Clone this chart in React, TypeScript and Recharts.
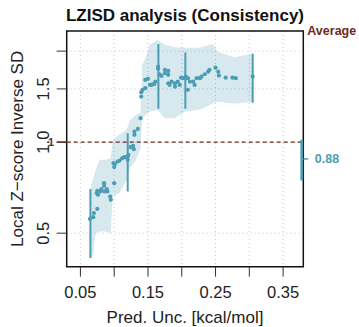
import React from 'react';
import {
  ComposedChart, XAxis, YAxis, CartesianGrid, Scatter, Line, Area,
  ReferenceLine, ReferenceArea,
} from 'recharts';

// ---------- data ----------
const xTicks = [0.05, 0.1, 0.15, 0.2, 0.25, 0.3, 0.35];
const xLabeled = [0.05, 0.15, 0.25, 0.35];
const yTicks = [0.5, 1, 1.5, 2];
const yTickLabels = ['0.5', '1.0', '1.5', ''];
const avgTicks = [0.88];

const pointX = [
  0.064, 0.069, 0.070, 0.075, 0.074, 0.075, 0.076, 0.080, 0.081, 0.085, 0.085, 0.086, 0.089, 0.090,
  0.094, 0.095, 0.100, 0.099, 0.100, 0.101, 0.105, 0.108, 0.112, 0.115, 0.118, 0.120, 0.120, 0.121,
  0.124, 0.128, 0.129, 0.130, 0.130, 0.135, 0.139, 0.140, 0.140, 0.142, 0.146, 0.146, 0.150, 0.153,
  0.155, 0.157, 0.159, 0.161, 0.165, 0.165, 0.167, 0.170, 0.175, 0.175, 0.180, 0.180, 0.180, 0.182,
  0.185, 0.190, 0.190, 0.194, 0.197, 0.199, 0.202, 0.206, 0.209, 0.209, 0.212, 0.217, 0.219, 0.222,
  0.227, 0.229, 0.234, 0.239, 0.241, 0.250, 0.254, 0.255, 0.265, 0.275, 0.280, 0.305,
];
const pointY = [
  0.557, 0.565, 0.583, 0.602, 0.679, 0.690, 0.670, 0.687, 0.700, 0.732, 0.717, 0.687, 0.700, 0.687,
  0.661, 0.645, 0.732, 0.852, 0.827, 0.846, 0.863, 0.869, 0.885, 0.892, 0.892, 0.896, 0.874, 0.908,
  0.963, 0.972, 0.948, 1.057, 1.084, 1.106, 1.20, 1.415, 1.463, 1.489, 1.51, 1.606, 1.62, 1.546,
  1.546, 1.554, 1.554, 1.585, 1.777, 1.75, 1.677, 1.656, 1.733, 1.69, 1.72, 1.67, 1.566, 1.546,
  1.585, 1.566, 1.526, 1.585, 1.546, 1.634, 1.627, 1.646, 1.627, 1.489, 1.585, 1.585, 1.546, 1.627,
  1.627, 1.646, 1.677, 1.71, 1.733, 1.763, 1.71, 1.66, 1.634, 1.634, 1.627, 1.65,
];

const bandX = [0.0648, 0.0682, 0.0726, 0.0786, 0.0874, 0.0948, 0.0978, 0.1081, 0.1185, 0.1229, 0.1318,
  0.139, 0.1415, 0.1466, 0.1525, 0.1643, 0.1747, 0.1895, 0.2043, 0.2265, 0.2457, 0.2531, 0.2783, 0.305];
const bandLo = [0.415, 0.418, 0.50, 0.506, 0.506, 0.50, 0.66, 0.68, 0.75, 0.82, 0.87,
  0.95, 1.20, 1.23, 1.26, 1.28, 1.20, 1.20, 1.26, 1.28, 1.34, 1.36, 1.34, 1.36];
const bandHi = [0.70, 0.75, 0.81, 0.874, 0.874, 0.887, 1.018, 1.06, 1.10, 1.18, 1.23,
  1.25, 1.80, 1.90, 2.10, 2.18, 2.10, 2.06, 2.05, 2.05, 2.11, 1.99, 1.91, 1.96];

const binX = [0.0648, 0.12, 0.1654, 0.2053, 0.305];
const binLo = [0.414, 0.687, 1.29, 1.29, 1.35];
const binHi = [0.70, 1.07, 2.11, 1.98, 1.96];

const avgX = 0.3778;
const avgLo = 0.747;
const avgHi = 1.018;
const avgValue = 0.88;

const xDomain = [0.0297, 0.3799];
const yDomain = [0.3874, 2.331];

// ---------- derived tables ----------
const points = pointX.map((x, i) => ({ x, y: pointY[i] }));
const band = bandX.map((x, i) => ({ x, range: [bandLo[i], bandHi[i]] }));
const binSegs: { x: number; y: number | null }[] = [];
binX.forEach((x, i) => {
  binSegs.push({ x, y: binLo[i] });
  binSegs.push({ x, y: binHi[i] });
  binSegs.push({ x, y: null });
});
const avgSeg = [{ x: avgX, y: avgHi }, { x: avgX, y: avgLo }];

// ---------- styles ----------
const FONT = '"Liberation Sans", Arial, Helvetica, sans-serif';
const TEAL = '#4b9db3';
const BROWN = '#6e2a22';
const TXT = '#222';

const YTick = (props: any) => {
  const { x, y, payload } = props;
  const idx = yTicks.indexOf(payload.value);
  const lbl = idx >= 0 ? yTickLabels[idx] : '';
  return (
    <g>
      {payload.value === 1 && (
        <>
          <line x1={x + 7.5} x2={x + 17.5} y1={y} y2={y} stroke={BROWN} strokeWidth={1.5} />
          <text x={x + 5} y={y + 4} textAnchor="end" fontFamily={FONT} fontWeight="bold" fontSize={11} fill={BROWN}>1</text>
        </>
      )}
      {lbl && (
        <text x={x} y={y} transform={`rotate(-90, ${x}, ${y})`} textAnchor="middle"
          fontFamily={FONT} fontSize={16.5} fill={TXT}>{lbl}</text>
      )}
    </g>
  );
};

const RTick = (props: any) => {
  const { x, y, payload } = props;
  return (
    <text x={x} y={y} dy="0.35em" textAnchor="start" fontFamily={FONT} fontWeight="bold"
      fontSize={12.5} fill={TEAL}>{payload.value.toFixed(2)}</text>
  );
};

const TitleLabel = (props: any) => {
  const vb = props.viewBox || {};
  return (
    <text x={vb.x + vb.width / 2} y={vb.y - 10} textAnchor="middle" fontFamily={FONT}
      fontWeight="bold" fontSize={17} fill="#111">LZISD analysis (Consistency)</text>
  );
};

const AvgLabel = (props: any) => {
  const vb = props.viewBox || {};
  return (
    <text x={vb.x + 4} y={vb.y + 4} textAnchor="start" fontFamily={FONT}
      fontWeight="bold" fontSize={12.5} fill={BROWN}>Average</text>
  );
};

const XLabel = (props: any) => {
  const vb = props.viewBox || {};
  return (
    <text x={vb.x + vb.width / 2} y={vb.y + 56} textAnchor="middle" fontFamily={FONT}
      fontSize={17} fill={TXT}>Pred. Unc. [kcal/mol]</text>
  );
};

const YLabel = (props: any) => {
  const vb = props.viewBox || {};
  const cx = vb.x + 23;
  const cy = vb.y + vb.height / 2;
  return (
    <text x={cx} y={cy} transform={`rotate(-90, ${cx}, ${cy})`} textAnchor="middle" fontFamily={FONT}
      fontSize={17} fill={TXT}>Local Z−score Inverse SD</text>
  );
};

const Dot = (props: any) => {
  const { cx, cy } = props;
  if (cx == null || cy == null) return null;
  return <circle cx={cx} cy={cy} r={2.1} fill={TEAL} />;
};

export default function App() {
  return (
    <div style={{ position: 'absolute', left: 0, top: 0, width: 359, height: 327, background: '#fff' }}>
      <ComposedChart width={359} height={327} margin={{ top: 31, right: 0, bottom: 0, left: 0 }}>
        <CartesianGrid yAxisId="l" stroke="#c8c8c8" strokeDasharray="1 3" horizontalValues={yTicks} verticalValues={xTicks} />
        <XAxis dataKey="x" type="number" domain={xDomain} allowDataOverflow ticks={xTicks}
          tickFormatter={(v: number) => (xLabeled.includes(v) ? v.toFixed(2) : '')}
          height={60.3} axisLine={false} tickSize={10} tickMargin={10}
          tickLine={{ stroke: '#333' }}
          tick={{ fontSize: 16.5, fill: TXT, fontFamily: FONT }}
          label={<XLabel />} />
        <YAxis yAxisId="l" type="number" scale="log" domain={yDomain} allowDataOverflow ticks={yTicks}
          width={66.7} axisLine={false} tickSize={10} tickMargin={7.5} tickLine={{ stroke: '#333' }}
          tick={<YTick />} label={<YLabel />} />
        <YAxis yAxisId="r" orientation="right" type="number" scale="log" domain={yDomain} allowDataOverflow
          ticks={avgTicks} width={55.7} axisLine={false} tickSize={5} tickMargin={6.5}
          tickLine={{ stroke: TEAL, strokeWidth: 1.5 }} tick={<RTick />} label={<AvgLabel />} />
        <Area yAxisId="l" data={band} dataKey="range" type="linear" stroke="none" fill={TEAL}
          fillOpacity={0.22} isAnimationActive={false} />
        <ReferenceLine yAxisId="l" y={1} stroke={BROWN} strokeDasharray="4 3" strokeWidth={1.2} />
        <Line yAxisId="l" data={binSegs} dataKey="y" type="linear" stroke={TEAL} strokeWidth={2}
          dot={false} activeDot={false} connectNulls={false} isAnimationActive={false} />
        <Scatter yAxisId="l" data={points} dataKey="y" fill={TEAL} shape={<Dot />} isAnimationActive={false} />
        <Line yAxisId="r" data={avgSeg} dataKey="y" type="linear" stroke={TEAL} strokeWidth={3}
          dot={false} activeDot={false} isAnimationActive={false} />
        <ReferenceArea yAxisId="l" x1={xDomain[0]} x2={xDomain[1]} y1={yDomain[0]} y2={yDomain[1]}
          fill="none" stroke="#111" strokeWidth={1.5} ifOverflow="visible" label={<TitleLabel />} />
      </ComposedChart>
    </div>
  );
}
